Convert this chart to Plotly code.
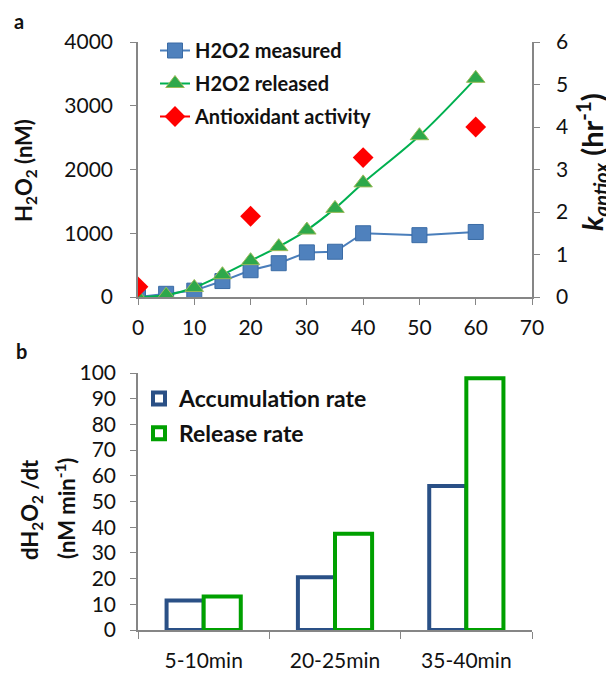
import plotly.graph_objects as go

# ---- data ----
time_min = [0, 5, 10, 15, 20, 25, 30, 35, 40, 50, 60]
h2o2_measured = [0, 50, 100, 250, 420, 530, 700, 710, 1000, 970, 1020]
h2o2_released = [0, 30, 150, 350, 570, 790, 1050, 1390, 1790, 2530, 3430]
antiox_time = [0, 20, 40, 60]
antiox_k = [0.24, 1.9, 3.28, 4.0]

rate_cats = ["5-10min", "20-25min", "35-40min"]
accum_rate = [11.5, 20.5, 56]
release_rate = [13, 37.5, 98]

# page body has an 8px margin: draw the figure 8px smaller and shift coordinates
OFF = 8
W, H = 614 - OFF, 673 - OFF
ML, MT = 138 - OFF, 42 - OFF
MR = W - (532 - OFF)
MB = H - (630 - OFF)
PW, PH = W - ML - MR, H - MT - MB

def px(x):  # x in reference-screen pixels
    return (x - OFF - ML) / PW

def py(y):  # y in reference-screen pixels
    return 1 - (y - OFF - MT) / PH

FONT = "Lato, 'Open Sans', sans-serif"
AX = "#868686"

# antioxidant series with gaps so the legend shows a line but points are unconnected
ax_x, ax_y = [], []
for t, k in zip(antiox_time, antiox_k):
    ax_x += [t, None]
    ax_y += [k, None]

fig = go.Figure()
fig.add_trace(go.Scatter(x=time_min, y=h2o2_measured, mode="lines+markers",
                         name="H2O2 measured", legendgroup="g1", legend="legend",
                         line=dict(color="#4A7EBB", width=2),
                         marker=dict(symbol="square", size=15, color="#4F81BD",
                                     line=dict(color="#3A6BA5", width=1)),
                         xaxis="x", yaxis="y"))
fig.add_trace(go.Scatter(x=time_min, y=h2o2_released, mode="lines+markers",
                         name="H2O2 released", legendgroup="g2", legend="legend",
                         line=dict(color="#00B050", width=2, shape="spline"),
                         marker=dict(symbol="triangle-up", size=16, color="#2EA84A",
                                     line=dict(color="#9BBB59", width=1)),
                         xaxis="x", yaxis="y"))
fig.add_trace(go.Scatter(x=ax_x, y=ax_y, mode="lines+markers", connectgaps=False,
                         name="Antioxidant activity", legendgroup="g3", legend="legend",
                         line=dict(color="#FF0000", width=2),
                         marker=dict(symbol="diamond", size=16, color="#FF0000"),
                         xaxis="x", yaxis="y2"))

fig.add_trace(go.Bar(x=rate_cats, y=accum_rate, name="Accumulation rate",
                     legendgroup="b1", legend="legend2",
                     marker=dict(color="white", line=dict(color="#2A5086", width=4)),
                     xaxis="x2", yaxis="y3"))
fig.add_trace(go.Bar(x=rate_cats, y=release_rate, name="Release rate",
                     legendgroup="b2", legend="legend2",
                     marker=dict(color="white", line=dict(color="#00A000", width=4)),
                     xaxis="x2", yaxis="y3"))

tickfont = dict(family=FONT, size=21, color="#111")
top_dom = [py(297), 1]
bot_dom = [0, py(373)]

fig.update_layout(
    width=W, height=H, margin=dict(l=ML, r=MR, t=MT, b=MB, autoexpand=False),
    paper_bgcolor="white", plot_bgcolor="white",
    font=dict(family=FONT, color="#111"),
    barmode="group", bargap=0.435, bargroupgap=0,
    xaxis=dict(domain=[0, 1], anchor="y", range=[0, 70], dtick=10, showgrid=False,
               zeroline=False, showline=True, linecolor=AX, linewidth=1.5,
               ticks="outside", ticklen=6, tickcolor=AX, tickfont=tickfont,
               ticklabelstandoff=5),
    yaxis=dict(domain=top_dom, anchor="x", range=[0, 4000], dtick=1000, showgrid=False,
               zeroline=False, showline=True, linecolor=AX, linewidth=1.5,
               ticks="outside", ticklen=6, tickcolor=AX, tickfont=tickfont,
               ticklabelstandoff=13),
    yaxis2=dict(overlaying="y", side="right", anchor="x", range=[0, 6], dtick=1,
                showgrid=False, zeroline=False, showline=True, linecolor=AX,
                linewidth=1.5, ticks="outside", ticklen=6, tickcolor=AX,
                tickfont=tickfont, ticklabelstandoff=12),
    xaxis2=dict(domain=[0, 1], anchor="y3", type="category", range=[-0.5, 2.5],
                showgrid=False, zeroline=False, showline=True, linecolor=AX,
                linewidth=1.5, ticks="outside", tickson="boundaries", ticklen=7,
                tickcolor=AX, tickfont=tickfont, ticklabelstandoff=11),
    yaxis3=dict(domain=bot_dom, anchor="x2", range=[0, 100], dtick=10, showgrid=False,
                zeroline=False, showline=True, linecolor=AX, linewidth=1.5,
                ticks="outside", ticklen=6, tickcolor=AX, tickfont=tickfont,
                ticklabelstandoff=10),
    legend=dict(x=px(155), y=py(31), xanchor="left", yanchor="top",
                bgcolor="rgba(0,0,0,0)", tracegroupgap=4, traceorder="grouped",
                font=dict(family=FONT, size=20, color="#111", weight="bold"),
                itemwidth=30),
    legend2=dict(x=px(139), y=py(377), xanchor="left", yanchor="top",
                 bgcolor="rgba(0,0,0,0)", tracegroupgap=2, traceorder="grouped",
                 font=dict(family=FONT, size=23, color="#111", weight="bold"),
                 itemwidth=30),
    showlegend=True,
)

ann = [
    dict(text="a", x=px(19), y=py(21), size=20, angle=0),
    dict(text="b", x=px(21), y=py(351), size=20, angle=0),
    dict(text="H<sub>2</sub>O<sub>2</sub> (nM)", x=px(25), y=py(170), size=22, angle=-90),
    dict(text="<i>k</i><sub><i>antiox</i></sub> (hr<sup>-1</sup>)", x=px(592), y=py(162), size=29, angle=-90),
    dict(text="dH<sub>2</sub>O<sub>2</sub> /dt", x=px(31), y=py(510), size=22, angle=-90),
    dict(text="(nM min<sup>-1</sup>)", x=px(65), y=py(509), size=22, angle=-90),
]
for a in ann:
    fig.add_annotation(text=a["text"], x=a["x"], y=a["y"], xref="paper", yref="paper",
                       showarrow=False, textangle=a["angle"], xanchor="center",
                       yanchor="middle",
                       font=dict(family=FONT, size=a["size"], color="#111", weight="bold"))

fig.write_html("out.html")
